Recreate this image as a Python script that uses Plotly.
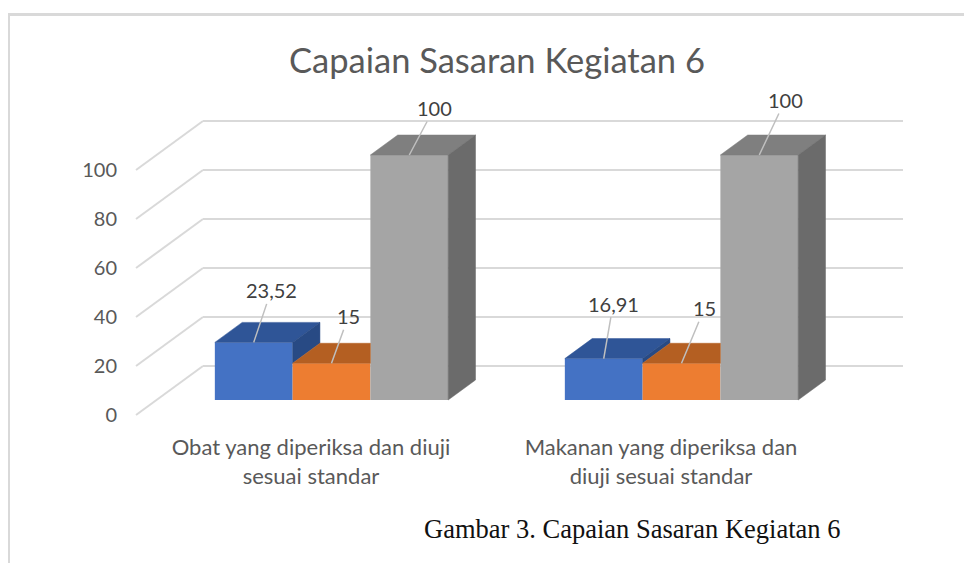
import plotly.graph_objects as go

# ---------------- data ----------------
categories = ["Obat yang diperiksa dan diuji<br>sesuai standar",
              "Makanan yang diperiksa dan<br>diuji sesuai standar"]
series_names = ["Seri 1", "Seri 2", "Seri 3"]
series_1 = [23.52, 16.91]
series_2 = [15, 15]
series_3 = [100, 100]
label_1 = ["23,52", "16,91"]
label_2 = ["15", "15"]
label_3 = ["100", "100"]
y_ticks = [0, 20, 40, 60, 80, 100]
title_text = "Capaian Sasaran Kegiatan 6"
caption_text = "Gambar 3. Capaian Sasaran Kegiatan 6"

series_values = [series_1, series_2, series_3]
series_labels = [label_1, label_2, label_3]

# ---------------- style / geometry ----------------
front_colors = ["#4472C4", "#ED7D31", "#A5A5A5"]
top_colors = ["#2F5597", "#B45F22", "#7F7F7F"]
side_colors = ["#284A84", "#9E4F1A", "#6B6B6B"]
grid_color = "#D9D9D9"
leader_color = "#BFBFBF"
FONT = "Lato"

OFF = 8                                  # page body margin
SW, SH = 972, 563                        # screen size
W, H = SW - OFF, SH - OFF                # figure size
# plot area in screen pixels
L, R, T, B = 128 - OFF, 940 - OFF, 90 - OFF, 425 - OFF
PX_X, PX_Y = 350.0, 2.45                 # pixels per category / per value unit
X0_PX, Y0_PX = 311.0 - OFF, 415.0 - OFF  # pixel of category 0 / value 0 (front plane)
x_range = [(L - X0_PX) / PX_X, (R - X0_PX) / PX_X]
y_range = [(Y0_PX - B) / PX_Y, (Y0_PX - T) / PX_Y]
DX = 67 / PX_X                           # full depth offset (x units)
DY = 49 / PX_Y                           # full depth offset (value units)
D_FRONT, D_BACK = 0.306, 0.714           # bar depth within the floor
GAP = 1.5
bw = 1.0 / (len(series_values) + GAP)
ddx = (D_BACK - D_FRONT) * DX
ddy = (D_BACK - D_FRONT) * DY
base = D_FRONT * DY

# label offsets (pixels) for each series / group
label_offsets = [[(17.5, -52), (9.5, -55)],
                 [(17, -47), (23, -55)],
                 [(25, -47), (26, -55)]]

fig = go.Figure()
n_s = len(series_values)

def xc_of(s, g):
    return g + (s - (n_s - 1) / 2) * bw + D_FRONT * DX

# front faces (bars)
for s in range(n_s):
    fig.add_trace(go.Bar(
        x=[xc_of(s, g) for g in range(len(categories))],
        y=series_values[s], base=base, width=bw,
        name=series_names[s], marker=dict(color=front_colors[s], line=dict(width=0)),
        showlegend=False, hoverinfo="skip"))

# top and side faces
for s in range(n_s):
    tx, ty, sx, sy = [], [], [], []
    for g in range(len(categories)):
        v = series_values[s][g]
        xc = xc_of(s, g)
        xl, xr = xc - bw / 2, xc + bw / 2
        y = base + v
        nxt = series_values[s + 1][g] if s + 1 < n_s else None
        if nxt is not None and nxt >= v + ddy:
            px_ = [xl, xr, xr, xl + ddx, xl]
        else:
            px_ = [xl, xr, xr + ddx, xl + ddx, xl]
        py_ = [y, y, y + ddy, y + ddy, y]
        tx += px_ + [None]
        ty += py_ + [None]
        lo = nxt if nxt is not None else 0
        if v > lo:
            sx += [xr, xr + ddx, xr + ddx, xr, xr, None]
            sy += [base + lo, base + lo + ddy, base + v + ddy, base + v, base + lo, None]
    fig.add_trace(go.Scatter(x=tx, y=ty, mode="lines", fill="toself",
                             fillcolor=top_colors[s], line=dict(color=top_colors[s], width=0.5),
                             showlegend=False, hoverinfo="skip"))
    if sx:
        fig.add_trace(go.Scatter(x=sx, y=sy, mode="lines", fill="toself",
                                 fillcolor=side_colors[s], line=dict(color=side_colors[s], width=0.5),
                                 showlegend=False, hoverinfo="skip"))

# gridlines (side wall diagonals + back wall)
shapes = []
x_front_left = -0.5
x_back_right = len(categories) - 0.5 + DX
for v in y_ticks:
    shapes.append(dict(type="line", xref="x", yref="y", layer="below",
                       x0=x_front_left, y0=v, x1=x_front_left + DX, y1=v + DY,
                       line=dict(color=grid_color, width=2)))
    shapes.append(dict(type="line", xref="x", yref="y", layer="below",
                       x0=x_front_left + DX, y0=v + DY, x1=x_back_right, y1=v + DY,
                       line=dict(color=grid_color, width=2)))

# outer frame (top + left), screen pixel positions converted to paper coords
def px2paper_x(px):
    return (px - OFF - L) / (R - L)
def px2paper_y(py):
    return (B - (py - OFF)) / (B - T)
shapes.append(dict(type="line", xref="paper", yref="paper",
                   x0=px2paper_x(7), y0=px2paper_y(14.5), x1=px2paper_x(SW + 5), y1=px2paper_y(14.5),
                   line=dict(color="#D9D9D9", width=3)))
shapes.append(dict(type="line", xref="paper", yref="paper",
                   x0=px2paper_x(8.5), y0=px2paper_y(13), x1=px2paper_x(8.5), y1=px2paper_y(SH + 5),
                   line=dict(color="#D9D9D9", width=3)))

annotations = []
for s in range(n_s):
    for g in range(len(categories)):
        ax, ay = label_offsets[s][g]
        annotations.append(dict(
            x=xc_of(s, g), y=base + series_values[s][g], xref="x", yref="y",
            text=series_labels[s][g], showarrow=True, arrowhead=0, arrowwidth=1.5,
            arrowcolor=leader_color, ax=ax, ay=ay, standoff=0,
            font=dict(family=FONT, size=20, color="#404040")))

annotations.append(dict(
    x=px2paper_x(632), y=px2paper_y(529), xref="paper", yref="paper",
    text=caption_text, showarrow=False, xanchor="center", yanchor="middle",
    font=dict(family="Liberation Serif", size=26.5, color="#111111")))

fig.update_layout(
    width=W, height=H,
    margin=dict(l=L, r=W - R, t=T, b=H - B),
    paper_bgcolor="white", plot_bgcolor="white",
    barmode="overlay", showlegend=False,
    title=dict(text=title_text, x=(497 - OFF) / W, xanchor="center",
               y=1 - (61 - OFF) / H, yanchor="middle",
               font=dict(family=FONT, size=34.5, color="#595959")),
    xaxis=dict(range=x_range, tickvals=list(range(len(categories))), ticktext=categories,
               showgrid=False, zeroline=False, showline=False, ticks="",
               ticklabelstandoff=7,
               tickfont=dict(family=FONT, size=22, color="#595959")),
    yaxis=dict(range=y_range, tickvals=y_ticks, ticktext=[str(v) for v in y_ticks],
               showgrid=False, zeroline=False, showline=False, ticks="",
               ticklabelstandoff=10,
               tickfont=dict(family=FONT, size=20, color="#595959")),
    shapes=shapes, annotations=annotations,
)

fig.write_html("out.html")
